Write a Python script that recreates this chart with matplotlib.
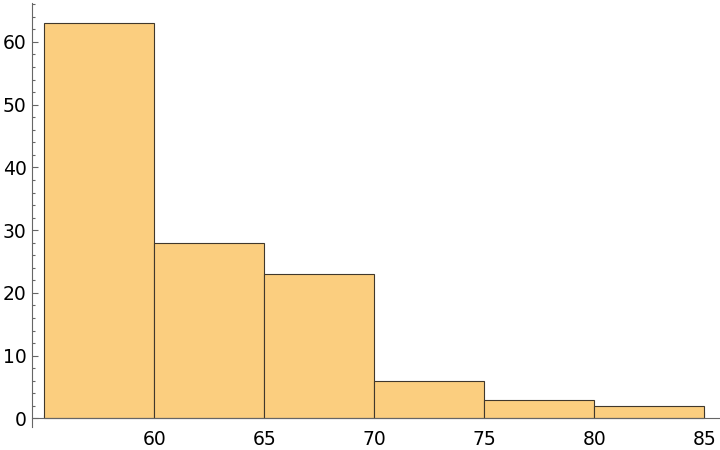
import matplotlib.pyplot as plt
from matplotlib.ticker import MultipleLocator, FixedLocator

bin_edges = [55, 60, 65, 70, 75, 80, 85]
counts = [63, 28, 23, 6, 3, 2]
x_ticks = [60, 65, 70, 75, 80, 85]
y_ticks = [0, 10, 20, 30, 40, 50, 60]

FILL = '#fbce7f'
EDGE = '#40382c'
AXIS = '#666666'

fig = plt.figure(figsize=(7.2, 4.5), dpi=100)
ax = fig.add_axes([32 / 720, 23.3 / 450, 688 / 720, 423.7 / 450])

widths = [bin_edges[i + 1] - bin_edges[i] for i in range(len(counts))]
ax.bar(bin_edges[:-1], counts, width=widths, align='edge',
       color=FILL, edgecolor=EDGE, linewidth=0.8, zorder=2)

ax.set_xlim(54.44, 85.72)
ax.set_ylim(-1.32, 66.2)

for side in ['top', 'right']:
    ax.spines[side].set_visible(False)
ax.spines['bottom'].set_position(('data', 0))
ax.spines['bottom'].set_color(AXIS)
ax.spines['left'].set_color(AXIS)
ax.spines['bottom'].set_zorder(3)

ax.xaxis.set_major_locator(FixedLocator(x_ticks))
ax.xaxis.set_minor_locator(MultipleLocator(1))
ax.yaxis.set_major_locator(FixedLocator(y_ticks))
ax.yaxis.set_minor_locator(MultipleLocator(2))

ax.tick_params(axis='both', which='both', direction='in', color=AXIS,
               labelsize=13.5, labelcolor='black')
ax.tick_params(axis='both', which='major', length=4.5, width=0.8)
ax.tick_params(axis='both', which='minor', length=2.5, width=0.8)
ax.tick_params(axis='x', pad=8)
ax.tick_params(axis='y', pad=4)

fig.savefig('out.png', dpi=100)
